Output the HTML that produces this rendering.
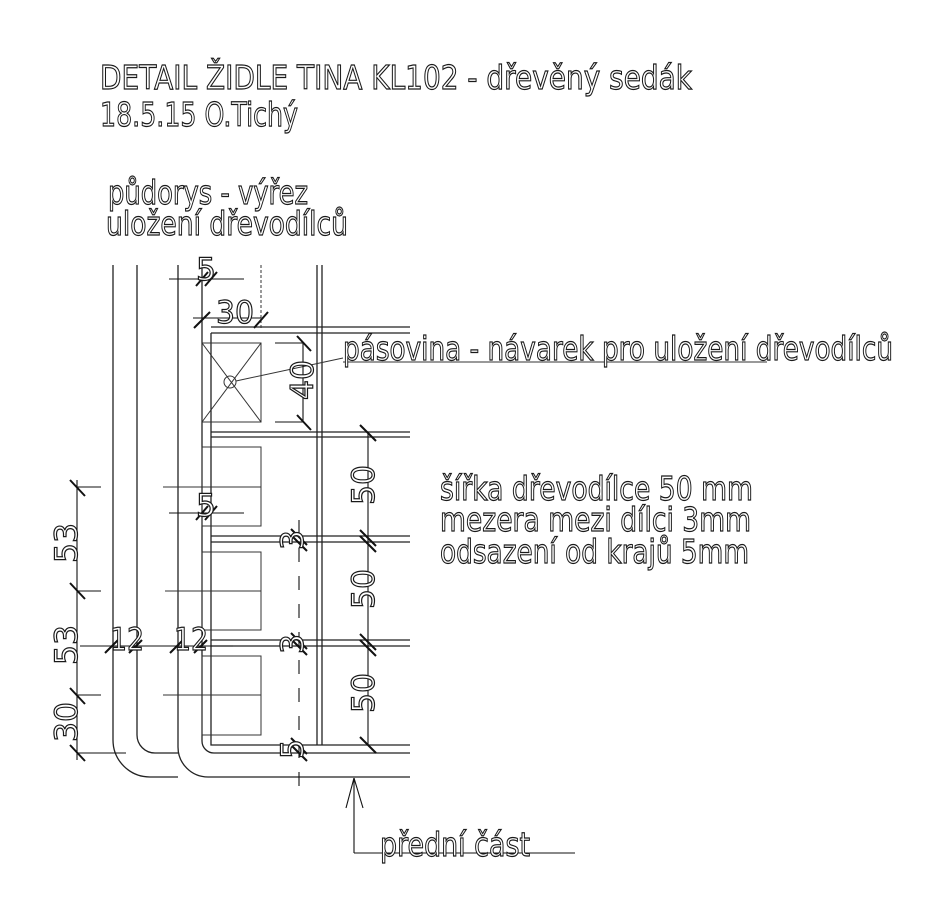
<!DOCTYPE html>
<html><head><meta charset="utf-8"><style>
html,body{margin:0;padding:0;background:#fff;}
svg{display:block}
text{font-family:"DejaVu Sans","Liberation Sans",sans-serif;fill:#fff;stroke:#1a1a1a;stroke-width:1.2;}
</style></head><body>
<svg width="940" height="897" viewBox="0 0 940 897" xmlns="http://www.w3.org/2000/svg">
<g stroke="#222" stroke-width="1.3" fill="none">
<path d="M113,265 V740 A37,37 0 0 0 150,777 H178"/>
<path d="M137,265 V735 A18,18 0 0 0 155,753 H178"/>
<path d="M178,265 V747 A30,30 0 0 0 208,777 H410"/>
<path d="M202,265 V741 A12,12 0 0 0 214,753 H410"/>
<path d="M211,333 V745 H410"/>
<line x1="317" y1="265" x2="317" y2="745"/>
<line x1="322" y1="265" x2="322" y2="745"/>
<line x1="211" y1="327" x2="410" y2="327"/>
<line x1="211" y1="333" x2="410" y2="333"/>
<line x1="211" y1="432" x2="410" y2="432"/>
<line x1="211" y1="437" x2="410" y2="437"/>
<line x1="211" y1="536" x2="410" y2="536"/>
<line x1="211" y1="542" x2="410" y2="542"/>
<line x1="211" y1="640" x2="410" y2="640"/>
<line x1="211" y1="646" x2="410" y2="646"/>
</g>
<g stroke="#333" stroke-width="1" fill="none">
<line x1="261" y1="265" x2="261" y2="330" stroke-dasharray="3,2"/>
<rect x="202" y="343" width="59" height="79"/>
<line x1="202" y1="343" x2="261" y2="422"/><line x1="261" y1="343" x2="202" y2="422"/>
<circle cx="230" cy="382" r="6"/>
<line x1="236" y1="381" x2="343" y2="358"/>
<line x1="343" y1="362" x2="767" y2="362"/>
<rect x="202" y="447" width="59" height="79"/>
<rect x="202" y="552" width="59" height="78"/>
<rect x="202" y="656" width="59" height="79"/>
<line x1="163" y1="487" x2="261" y2="487"/>
<line x1="165" y1="591" x2="261" y2="591"/>
<line x1="163" y1="695" x2="261" y2="695"/>
</g>
<g stroke="#111" stroke-width="1.1" fill="none">
<line x1="169" y1="279" x2="244" y2="279"/>
<line x1="196" y1="286" x2="208" y2="272" stroke-width="2"/>
<line x1="205" y1="286" x2="217" y2="272" stroke-width="2"/>
<line x1="193" y1="318" x2="261" y2="318"/>
<line x1="194" y1="328" x2="210" y2="312" stroke-width="2"/>
<line x1="254" y1="328" x2="268" y2="312" stroke-width="2"/>
<line x1="275" y1="343" x2="303" y2="343"/><line x1="275" y1="422" x2="303" y2="422"/>
<line x1="303" y1="343" x2="303" y2="422"/>
<line x1="297" y1="336" x2="311" y2="351" stroke-width="2"/>
<line x1="297" y1="415" x2="311" y2="430" stroke-width="2"/>
<line x1="169" y1="513" x2="244" y2="513"/>
<line x1="196" y1="520" x2="208" y2="506" stroke-width="2"/>
<line x1="205" y1="520" x2="217" y2="506" stroke-width="2"/>
<line x1="368" y1="432" x2="368" y2="745"/>
<line x1="360" y1="425" x2="376" y2="441" stroke-width="2"/>
<line x1="360" y1="530" x2="376" y2="546" stroke-width="2"/><line x1="360" y1="536" x2="376" y2="552" stroke-width="2"/>
<line x1="360" y1="634" x2="376" y2="650" stroke-width="2"/><line x1="360" y1="640" x2="376" y2="656" stroke-width="2"/>
<line x1="360" y1="737" x2="376" y2="753" stroke-width="2"/>
<line x1="299" y1="520" x2="299" y2="786" stroke-dasharray="14,14"/>
<line x1="291" y1="529" x2="307" y2="545" stroke-width="2"/><line x1="291" y1="535" x2="307" y2="551" stroke-width="2"/>
<line x1="291" y1="633" x2="307" y2="649" stroke-width="2"/><line x1="291" y1="639" x2="307" y2="655" stroke-width="2"/>
<line x1="291" y1="738" x2="307" y2="754" stroke-width="2"/><line x1="291" y1="745" x2="307" y2="761" stroke-width="2"/>
<line x1="77" y1="480" x2="77" y2="760"/>
<line x1="77" y1="487" x2="101" y2="487"/>
<line x1="77" y1="591" x2="101" y2="591"/>
<line x1="77" y1="695" x2="101" y2="695"/>
<line x1="77" y1="753" x2="126" y2="753"/>
<line x1="70" y1="480" x2="85" y2="496" stroke-width="2"/>
<line x1="70" y1="583" x2="85" y2="599" stroke-width="2"/>
<line x1="70" y1="688" x2="85" y2="704" stroke-width="2"/>
<line x1="70" y1="745" x2="85" y2="761" stroke-width="2"/>
<line x1="80" y1="646" x2="233" y2="646"/>
<line x1="105" y1="653" x2="118" y2="640" stroke-width="2"/>
<line x1="129" y1="653" x2="142" y2="640" stroke-width="2"/>
<line x1="170" y1="653" x2="183" y2="640" stroke-width="2"/>
<line x1="194" y1="653" x2="207" y2="640" stroke-width="2"/>
<line x1="354" y1="778" x2="354" y2="853"/>
<line x1="354" y1="778" x2="346" y2="808"/><line x1="354" y1="778" x2="363" y2="808"/>
<line x1="354" y1="853" x2="575" y2="853"/>
</g>
<text x="100" y="89" font-size="33" textLength="592" lengthAdjust="spacingAndGlyphs">DETAIL ŽIDLE TINA KL102 - dřevěný sedák</text>
<text x="100" y="126" font-size="33" textLength="198" lengthAdjust="spacingAndGlyphs">18.5.15 O.Tichý</text>
<text x="108" y="204" font-size="33" textLength="200" lengthAdjust="spacingAndGlyphs">půdorys - výřez</text>
<text x="106" y="235" font-size="33" textLength="242" lengthAdjust="spacingAndGlyphs">uložení dřevodílců</text>
<text x="343" y="360" font-size="33" textLength="550" lengthAdjust="spacingAndGlyphs">pásovina - návarek pro uložení dřevodílců</text>
<text x="440" y="500" font-size="33" textLength="313" lengthAdjust="spacingAndGlyphs">šířka dřevodílce 50 mm</text>
<text x="440" y="531" font-size="33" textLength="311" lengthAdjust="spacingAndGlyphs">mezera mezi dílci 3mm</text>
<text x="440" y="563" font-size="33" textLength="309" lengthAdjust="spacingAndGlyphs">odsazení od krajů 5mm</text>
<text x="380" y="856" font-size="33" textLength="150" lengthAdjust="spacingAndGlyphs">přední část</text>
<g font-size="31">
<text x="196" y="280" textLength="20" lengthAdjust="spacingAndGlyphs">5</text>
<text x="216" y="323" textLength="38" lengthAdjust="spacingAndGlyphs">30</text>
<text x="196" y="516" textLength="20" lengthAdjust="spacingAndGlyphs">5</text>
<text x="110" y="650" textLength="34" lengthAdjust="spacingAndGlyphs">12</text>
<text x="174" y="650" textLength="34" lengthAdjust="spacingAndGlyphs">12</text>
<text transform="translate(313,400) rotate(-90)" textLength="40" lengthAdjust="spacingAndGlyphs">40</text>
<text transform="translate(374,505) rotate(-90)" textLength="40" lengthAdjust="spacingAndGlyphs">50</text>
<text transform="translate(374,609) rotate(-90)" textLength="40" lengthAdjust="spacingAndGlyphs">50</text>
<text transform="translate(374,713) rotate(-90)" textLength="40" lengthAdjust="spacingAndGlyphs">50</text>
<text transform="translate(303,550) rotate(-90)" textLength="20" lengthAdjust="spacingAndGlyphs">3</text>
<text transform="translate(303,654) rotate(-90)" textLength="20" lengthAdjust="spacingAndGlyphs">3</text>
<text transform="translate(303,759) rotate(-90)" textLength="20" lengthAdjust="spacingAndGlyphs">5</text>
<text transform="translate(77,563) rotate(-90)" textLength="40" lengthAdjust="spacingAndGlyphs">53</text>
<text transform="translate(77,665) rotate(-90)" textLength="40" lengthAdjust="spacingAndGlyphs">53</text>
<text transform="translate(77,742) rotate(-90)" textLength="40" lengthAdjust="spacingAndGlyphs">30</text>
</g>
</svg>
</body></html>
